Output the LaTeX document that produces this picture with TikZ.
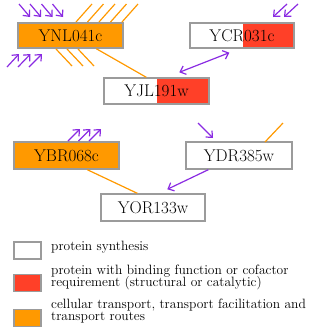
\documentclass[tikz,border=0pt]{standalone}
\usetikzlibrary{arrows.meta,calc}
\definecolor{orng}{RGB}{255,153,0}
\definecolor{redc}{RGB}{255,64,40}
\definecolor{purp}{RGB}{138,43,226}
\definecolor{bord}{RGB}{155,155,155}
\begin{document}
\begin{tikzpicture}[x=1pt,y=-1pt,
  gene/.style={draw=bord,line width=1.4pt,inner sep=0pt,font=\fontsize{17}{19}\selectfont},
  redpart/.style={path picture={\fill[redc] ($(path picture bounding box.north west)+(#1,0)$) rectangle (path picture bounding box.south east);}},
  arr/.style={purp,line width=1.2pt,-{Straight Barb[length=5pt,width=9pt]}},
  darr/.style={purp,line width=1.2pt,{Straight Barb[length=5pt,width=9pt]}-{Straight Barb[length=5pt,width=9pt]}},
  olin/.style={orng,line width=1.2pt},
  legbox/.style={draw=bord,line width=1.4pt,minimum width=27pt,minimum height=17pt,inner sep=0pt},
  legtxt/.style={anchor=base west,inner sep=0pt,font=\fontsize{13.5}{11}\selectfont}]
\useasboundingbox (0,0) rectangle (314,335);

% genes
\node[gene,fill=orng,minimum width=105pt,minimum height=25pt] (ynl) at (70.5,35.5) {YNL041c};
\node[gene,fill=white,redpart=53,minimum width=104pt,minimum height=25pt] (ycr) at (242,35.5) {YCR031c};
\node[gene,fill=white,redpart=53,minimum width=105pt,minimum height=26pt] (yjl) at (156.5,91) {YJL191w};
\node[gene,fill=orng,minimum width=105pt,minimum height=27pt] (ybr) at (66.5,155.5) {YBR068c};
\node[gene,fill=white,minimum width=106pt,minimum height=27pt] (ydr) at (239,155.5) {YDR385w};
\node[gene,fill=white,minimum width=104pt,minimum height=27pt] (yor) at (153,207.5) {YOR133w};

% edges between genes
\draw[olin] ($(ynl.south west)+(79,0)$) -- ($(yjl.north west)+(43,0)$);
\draw[darr] ($(ycr.south west)+(40,4)$) -- ($(yjl.north west)+(76,-5)$);
\draw[olin] ($(ybr.south west)+(74,0)$) -- ($(yor.north west)+(37,0)$);
\draw[arr] ($(ydr.south west)+(23,0)$) -- ($(yor.north west)+(67,-4)$);

% stubs of YNL041c
\foreach \i/\tx/\hx in {1/19/30,2/30/41,3/41.5/52.5,4/52.5/63}{
  \coordinate (nlt\i) at (\tx,4);
  \coordinate (nlh\i) at (\hx,17);
  \draw[arr] (nlt\i) -- (nlh\i);
}
\foreach \i/\bx/\tx in {1/76/92,2/87.5/103.5,3/99/115,4/110.5/126.5,5/122/138}{
  \coordinate (nob\i) at (\bx,22);
  \coordinate (not\i) at (\tx,4);
  \draw[olin] (nob\i) -- (not\i);
}
\foreach \i/\tx/\hx in {1/7/19,2/18/30.5,3/29/42}{
  \coordinate (nbt\i) at (\tx,67);
  \coordinate (nbh\i) at (\hx,54);
  \draw[arr] (nbt\i) -- (nbh\i);
}
\foreach \i/\tx/\bx in {1/56/72,2/67/83,3/78/94}{
  \coordinate (nlo\i) at (\tx,49);
  \coordinate (nle\i) at (\bx,66);
  \draw[olin] (nlo\i) -- (nle\i);
}

% stubs of YCR031c
\foreach \i/\tx/\hx in {1/287/273,2/298/284}{
  \coordinate (crt\i) at (\tx,4);
  \coordinate (crh\i) at (\hx,17);
  \draw[arr] (crt\i) -- (crh\i);
}

% stubs of YBR068c
\foreach \i/\tx/\hx in {1/68/80,2/78.5/90.5,3/89/101}{
  \coordinate (brt\i) at (\tx,141);
  \coordinate (brh\i) at (\hx,129);
  \draw[arr] (brt\i) -- (brh\i);
}

% stubs of YDR385w
\coordinate (drt) at (198,123);
\coordinate (drh) at (213,138);
\draw[arr] (drt) -- (drh);
\coordinate (dro) at (265,142);
\coordinate (dre) at (283,123);
\draw[olin] (dro) -- (dre);

% legend
\node[legbox,fill=white] (lg1) at (27.5,250.5) {};
\node[legbox,fill=redc] (lg2) at (27.5,283) {};
\node[legbox,fill=orng] (lg3) at (27.5,318) {};
\node[legtxt] (lt1) at (51,250) {protein synthesis};
\node[legtxt] (lt2a) at (51,274.5) {protein with binding function or cofactor};
\node[legtxt] (lt2b) at (51,286.5) {requirement (structural or catalytic)};
\node[legtxt] (lt3a) at (51,308.5) {cellular transport, transport facilitation and};
\node[legtxt] (lt3b) at (51,320.5) {transport routes};
\end{tikzpicture}
\end{document}
